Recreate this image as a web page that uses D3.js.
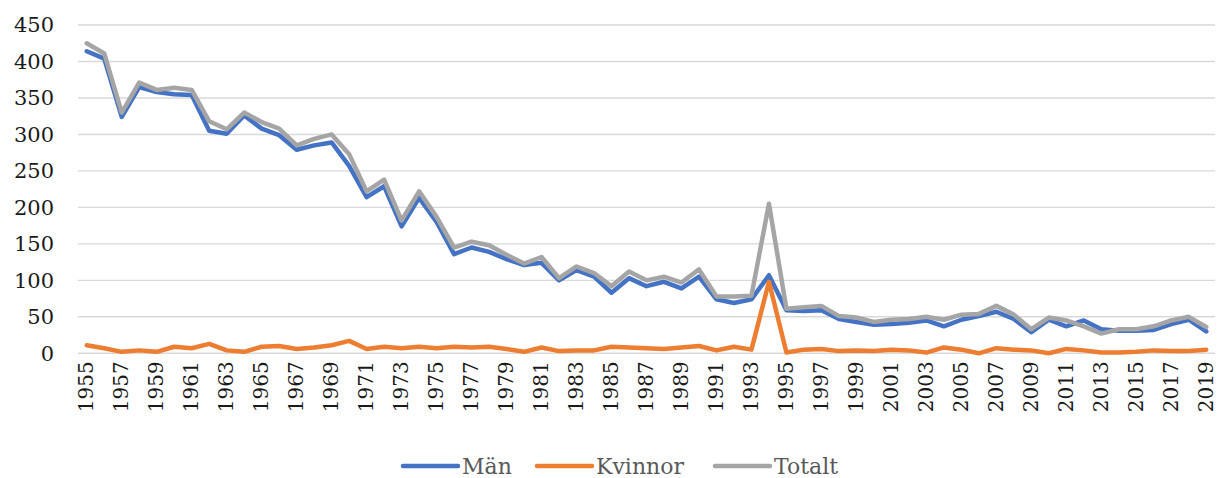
<!DOCTYPE html>
<html>
<head>
<meta charset="utf-8">
<script src="https://cdn.jsdelivr.net/npm/d3@7"></script>
<style>
  html, body { margin: 0; padding: 0; background: #fff; }
  svg { display: block; }
  text { font-family: "DejaVu Serif", serif; }
</style>
</head>
<body>
<svg id="chart" width="1217" height="478"></svg>
<script>
const years = d3.range(1955, 2020).map(String);
const man = [414,404,324,365,358,355,354,305,301,326,308,299,279,285,289,257,214,229,174,213,180,136,145,139,129,121,124,100,114,105,83,103,92,98,89,105,74,69,74,107,59,58,59,47,43,39,40,42,45,37,46,51,57,47,29,46,37,45,33,31,31,32,40,46,30];
const kvinnor = [11,7,2,4,2,9,7,13,4,2,9,10,6,8,11,17,6,9,7,9,7,9,8,9,6,2,8,3,4,4,9,8,7,6,8,10,4,9,5,98,1,5,6,3,4,3,5,4,1,8,5,0,7,5,4,0,6,4,1,1,2,4,3,3,5];
const totalt = [425,411,330,371,361,364,361,318,307,330,317,308,285,294,300,273,222,238,182,222,187,145,153,148,135,123,132,103,119,110,92,112,100,105,97,115,78,78,79,205,61,63,65,51,49,43,46,47,50,46,53,54,65,53,33,49,45,37,27,33,33,37,45,50,36];
const yTicks = [0,50,100,150,200,250,300,350,400,450];
const seriesNames = ["Män","Kvinnor","Totalt"];
const seriesColors = ["#4472C4","#ED7D31","#A5A5A5"];

const series = [man, kvinnor, totalt].map((vals, i) => ({name: seriesNames[i], color: seriesColors[i], values: vals}));

const svg = d3.select("#chart");
const plotLeft = 78, plotRight = 1215, plotTop = 25, plotBottom = 353.3;

const x = d3.scalePoint().domain(years).range([plotLeft, plotRight]).padding(0.5);
const y = d3.scaleLinear().domain([0, 450]).range([plotBottom, plotTop]);

// gridlines
svg.append("g").selectAll("line").data(yTicks).join("line")
  .attr("x1", plotLeft).attr("x2", plotRight)
  .attr("y1", d => y(d)).attr("y2", d => y(d))
  .attr("stroke", "#D9D9D9").attr("stroke-width", 1.4);

// y axis labels
const yAxis = d3.axisLeft(y).tickValues(yTicks).tickSize(0).tickPadding(0);
const gy = svg.append("g").attr("transform", `translate(54,0)`).call(yAxis);
gy.select(".domain").remove();
gy.selectAll("text").attr("font-family", "DejaVu Serif").attr("font-size", 21).attr("fill", "#1a1a1a");

// x axis labels (every other year)
const xLabels = years.filter((d, i) => i % 2 === 0);
const xAxis = d3.axisBottom(x).tickValues(xLabels).tickSize(0).tickPadding(0);
const gx = svg.append("g").attr("transform", `translate(0,${plotBottom + 8})`).call(xAxis);
gx.select(".domain").remove();
gx.selectAll("text")
  .attr("font-family", "DejaVu Serif").attr("font-size", 20).attr("fill", "#1a1a1a")
  .attr("transform", "rotate(-90)")
  .attr("text-anchor", "end")
  .attr("x", 0).attr("y", -1).attr("dy", "0.35em");

// lines
const line = d3.line().x((d, i) => x(years[i])).y(d => y(d)).curve(d3.curveLinear);
svg.append("g").selectAll("path").data(series).join("path")
  .attr("d", d => line(d.values))
  .attr("fill", "none")
  .attr("stroke", d => d.color)
  .attr("stroke-width", 4.5)
  .attr("stroke-linejoin", "round")
  .attr("stroke-linecap", "round");

// legend
const legendY = 466;
const legendItems = [
  {x: 403},
  {x: 537},
  {x: 715}
];
const lg = svg.append("g");
series.forEach((s, i) => {
  const lx = legendItems[i].x;
  lg.append("line").attr("x1", lx).attr("x2", lx + 55).attr("y1", legendY).attr("y2", legendY)
    .attr("stroke", s.color).attr("stroke-width", 4.5).attr("stroke-linecap", "round");
  lg.append("text").attr("x", lx + 59).attr("y", legendY).attr("dy", "0.35em")
    .attr("font-size", 22).attr("fill", "#595959").text(s.name);
});
</script>
</body>
</html>
